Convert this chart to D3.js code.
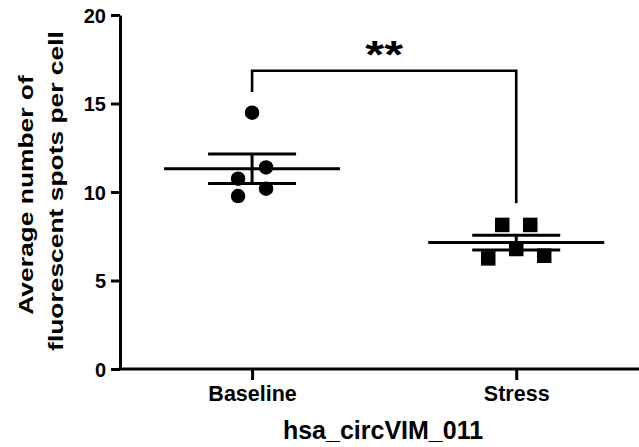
<!DOCTYPE html>
<html>
<head>
<meta charset="utf-8">
<script src="https://cdn.jsdelivr.net/npm/d3@7"></script>
<style>
  html, body { margin: 0; padding: 0; background: #fff; }
  svg { display: block; }
  text { font-family: "Liberation Sans", Arial, sans-serif; font-weight: bold; fill: #000; }
</style>
</head>
<body>
<svg id="chart" width="639" height="447"></svg>
<script>
// ---- data ----
const categories = ["Baseline", "Stress"];
const baselineValues = [14.48, 11.39, 10.75, 10.19, 9.77];
const stressValues = [8.14, 8.14, 6.25, 6.78, 6.40];
const yTicks = [0, 5, 10, 15, 20];
const yDomain = [0, 20];
const bracketTop = 16.85;
const bracketLegEnds = [15.65, 9.36];
const significance = "**";
const xTitle = "hsa_circVIM_011";
const yTitleLines = ["Average number of", "fluorescent spots per cell"];

// ---- layout ----
const W = 639, H = 447;
const plotLeft = 120, plotBottom = 369, plotTop = 15;
const svg = d3.select("#chart");

const x = d3.scalePoint().domain(categories).range([plotLeft, 648.3]).padding(0.5);
const y = d3.scaleLinear().domain(yDomain).range([plotBottom, plotTop]);

const markerSize = 14.5;
const swarmStep = 28;

// axes
const yAxis = d3.axisLeft(y).tickValues(yTicks).tickSize(9).tickSizeOuter(0).tickPadding(5);
const gy = svg.append("g").attr("transform", `translate(${plotLeft},0)`).call(yAxis);
gy.selectAll("text").style("font-size", "20px").attr("dy", "0.36em");
gy.selectAll("line,path").attr("stroke", "#000").attr("stroke-width", 3);

const xAxis = d3.axisBottom(x).tickSize(11).tickSizeOuter(0).tickPadding(6);
const gx = svg.append("g").attr("transform", `translate(0,${plotBottom})`).call(xAxis);
gx.selectAll("text").style("font-size", "21.5px").attr("dy", "0.71em");
gx.selectAll("line,path").attr("stroke", "#000").attr("stroke-width", 3);
gx.select("path.domain").attr("d", `M${plotLeft - 1.5},0H${W + 5}`);

// titles
svg.append("text")
  .attr("x", 383).attr("y", 439)
  .attr("text-anchor", "middle")
  .style("font-size", "25px")
  .text(xTitle);

const yt = svg.append("g");
yt.selectAll("text").data(yTitleLines).join("text")
  .attr("text-anchor", "middle")
  .attr("transform", (d, i) => `translate(${i === 0 ? 32.5 : 62.5},${i === 0 ? 195 : 191}) scale(0.75,1) rotate(-90)`)
  .style("font-size", "26.4px")
  .text(d => d);

// swarm layout: group values into rows one marker tall, spread center-out
function swarm(values, cat) {
  const rowH = markerSize / (y(0) - y(1));
  const sorted = values.map((v, i) => ({ v, i })).sort((a, b) => b.v - a.v);
  const out = [];
  let k = 0;
  while (k < sorted.length) {
    const row = [sorted[k]];
    let j = k + 1;
    while (j < sorted.length && sorted[k].v - sorted[j].v <= rowH) { row.push(sorted[j]); j++; }
    const n = row.length;
    row.forEach((p, idx) => {
      let off;
      if (n % 2 === 1) {
        off = idx === 0 ? 0 : (idx % 2 === 1 ? 1 : -1) * Math.ceil(idx / 2);
      } else {
        off = (idx % 2 === 0 ? 1 : -1) * (Math.floor(idx / 2) + 0.5);
      }
      out.push({ v: p.v, cx: x(cat) + off * swarmStep, cy: y(p.v) });
    });
    k = j;
  }
  return out;
}

function summary(values) {
  const m = d3.mean(values);
  const sem = d3.deviation(values) / Math.sqrt(values.length);
  return { m, lo: m - sem, hi: m + sem };
}

const groups = [
  { cat: "Baseline", values: baselineValues, shape: "circle" },
  { cat: "Stress", values: stressValues, shape: "square" }
];

groups.forEach(g => {
  const pts = swarm(g.values, g.cat);
  const cx = x(g.cat);
  const s = summary(g.values);
  const gg = svg.append("g");
  if (g.shape === "circle") {
    gg.selectAll("circle").data(pts).join("circle")
      .attr("cx", d => d.cx).attr("cy", d => d.cy).attr("r", markerSize / 2).attr("fill", "#000");
  } else {
    gg.selectAll("rect").data(pts).join("rect")
      .attr("x", d => d.cx - markerSize / 2).attr("y", d => d.cy - markerSize / 2)
      .attr("width", markerSize).attr("height", markerSize).attr("fill", "#000");
  }
  const ln = (x1, y1, x2, y2) => gg.append("line")
    .attr("x1", x1).attr("y1", y1).attr("x2", x2).attr("y2", y2)
    .attr("stroke", "#000").attr("stroke-width", 3);
  ln(cx - 88, y(s.m), cx + 88, y(s.m));
  ln(cx - 44, y(s.hi), cx + 44, y(s.hi));
  ln(cx - 44, y(s.lo), cx + 44, y(s.lo));
  ln(cx, y(s.hi), cx, y(s.lo));
});

// significance bracket
const x0 = x(categories[0]), x1 = x(categories[1]);
svg.append("path")
  .attr("d", `M${x0},${y(bracketLegEnds[0])}V${y(bracketTop)}H${x1}V${y(bracketLegEnds[1])}`)
  .attr("fill", "none").attr("stroke", "#000").attr("stroke-width", 2.6);
svg.append("text")
  .attr("transform", `translate(${(x0 + x1) / 2},68) scale(1.05,0.85)`)
  .attr("text-anchor", "middle")
  .style("font-size", "46px")
  .text(significance);
</script>
</body>
</html>
